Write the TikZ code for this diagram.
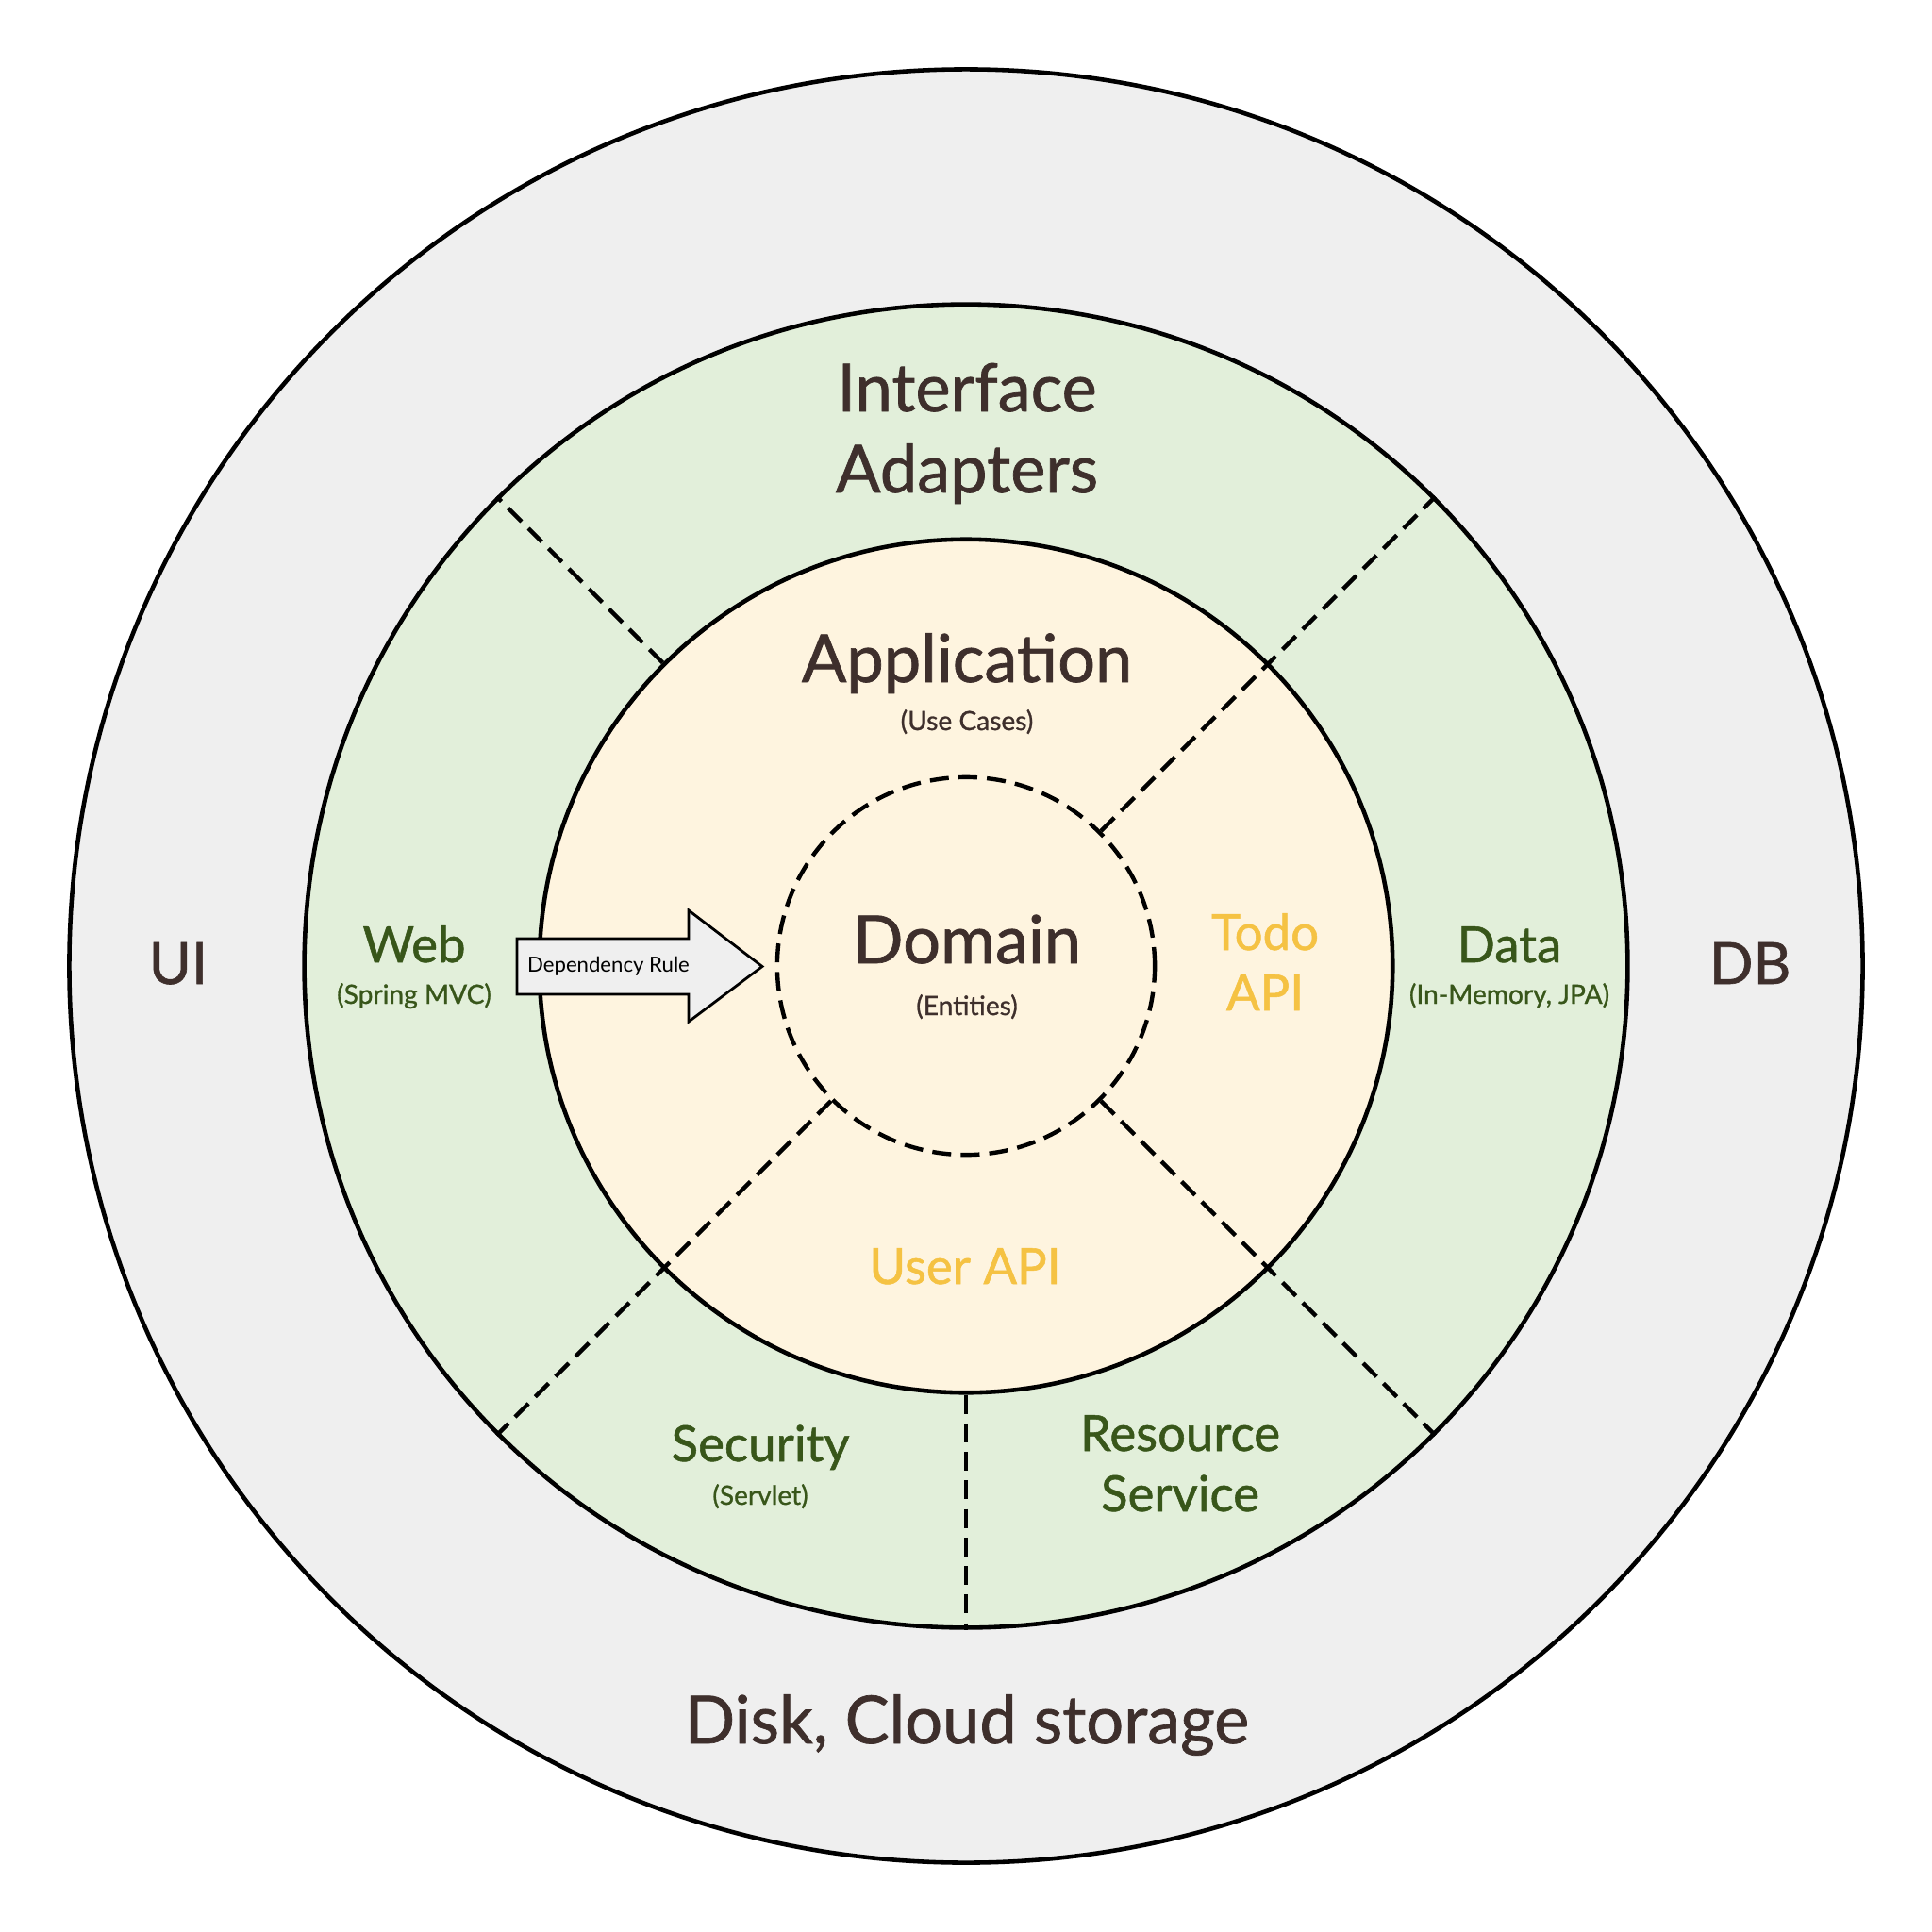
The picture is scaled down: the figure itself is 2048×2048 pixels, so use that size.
\documentclass[tikz,border=0pt]{standalone}
\usepackage{fontspec}
\setmainfont{Lato}[BoldFont={Lato}, BoldFeatures={FakeBold=1.0}]
\definecolor{outerfill}{HTML}{EFEFEF}
\definecolor{ifacefill}{HTML}{E2EFDA}
\definecolor{appfill}{HTML}{FEF4DF}
\definecolor{darktext}{HTML}{3E2F2C}
\definecolor{greentext}{HTML}{38561A}
\definecolor{yellowtext}{HTML}{F5C243}
\begin{document}
\begin{tikzpicture}[x=0.01cm,y=-0.01cm,
  ring/.style={circle, draw=black, line width=1.3pt, inner sep=0pt},
  dashline/.style={draw=black, line width=1.25pt, dash pattern=on 5.7pt off 2.9pt},
  bigtxt/.style={anchor=base, inner sep=0pt, text=darktext, font=\bfseries\fontsize{20pt}{24pt}\selectfont},
  sidetxt/.style={anchor=base, inner sep=0pt, text=darktext, font=\bfseries\fontsize{17.5pt}{21pt}\selectfont},
  midtxt/.style={anchor=base, inner sep=0pt, text=greentext, font=\bfseries\fontsize{15pt}{18pt}\selectfont},
  yeltxt/.style={anchor=base, inner sep=0pt, text=yellowtext, font=\bfseries\fontsize{15pt}{18pt}\selectfont},
  smalldark/.style={anchor=base, inner sep=0pt, text=darktext, font=\bfseries\fontsize{8pt}{10pt}\selectfont},
  smallgreen/.style={anchor=base, inner sep=0pt, text=greentext, font=\bfseries\fontsize{8pt}{10pt}\selectfont},
  arrowtxt/.style={anchor=base, inner sep=0pt, text=black, font=\fontsize{6.3pt}{8pt}\selectfont}
]
\useasboundingbox[fill=white] (0,0) rectangle (2048,2048);

% rings
\node[ring, fill=outerfill, minimum size=19cm] (outer) at (1024,1024) {};
\node[ring, fill=ifacefill, minimum size=14.02cm] (iface) at (1024,1024) {};
\node[ring, fill=appfill, minimum size=9.04cm] (app) at (1024,1024) {};
\node[circle, draw=black, line width=1.25pt, dash pattern=on 5.7pt off 2.9pt, fill=appfill, inner sep=0pt, minimum size=4.0cm] (dom) at (1024,1024) {};

% separators
\draw[dashline] (app.135) -- (iface.135);
\draw[dashline] (dom.45) -- (iface.45);
\draw[dashline] (dom.225) -- (iface.225);
\draw[dashline] (dom.315) -- (iface.315);
\draw[dashline] (app.270) -- (iface.270);

% dependency arrow
\draw[line width=0.8pt, fill=outerfill] (548,995) -- (730,995) -- (730,965) -- (808,1024.5) -- (730,1083) -- (730,1054) -- (548,1054) -- cycle;
\node[arrowtxt] (deprule) at (645,1030) {Dependency Rule};

% texts
\node[bigtxt] (t1) at (1025,436) {Interface};
\node[bigtxt] (t2) at (1025,522) {Adapters};
\node[bigtxt] (t3) at (1025,723) {Application};
\node[smalldark] (t4) at (1025,774) {(Use Cases)};
\node[bigtxt] (t5) at (1025,1021) {Domain};
\node[smalldark] (t6) at (1025,1076) {(Entities)};
\node[yeltxt] (t7) at (1341,1007) {Todo};
\node[yeltxt] (t8) at (1341,1071) {API};
\node[yeltxt] (t9) at (1023,1361) {User API};
\node[midtxt] (t10) at (439,1020) {Web};
\node[smallgreen] (t11) at (439,1064) {(Spring MVC)};
\node[midtxt] (t12) at (1600,1020) {Data};
\node[smallgreen] (t13) at (1600,1064) {(In-Memory, JPA)};
\node[midtxt] (t14) at (806,1549) {Security};
\node[smallgreen] (t15) at (806,1595) {(Servlet)};
\node[midtxt] (t16) at (1251,1538) {Resource};
\node[midtxt] (t17) at (1251,1602) {Service};
\node[sidetxt] (t18) at (189,1043) {UI};
\node[sidetxt] (t19) at (1855,1043) {DB};
\node[bigtxt] (t20) at (1025,1848) {Disk, Cloud storage};
\end{tikzpicture}
\end{document}
